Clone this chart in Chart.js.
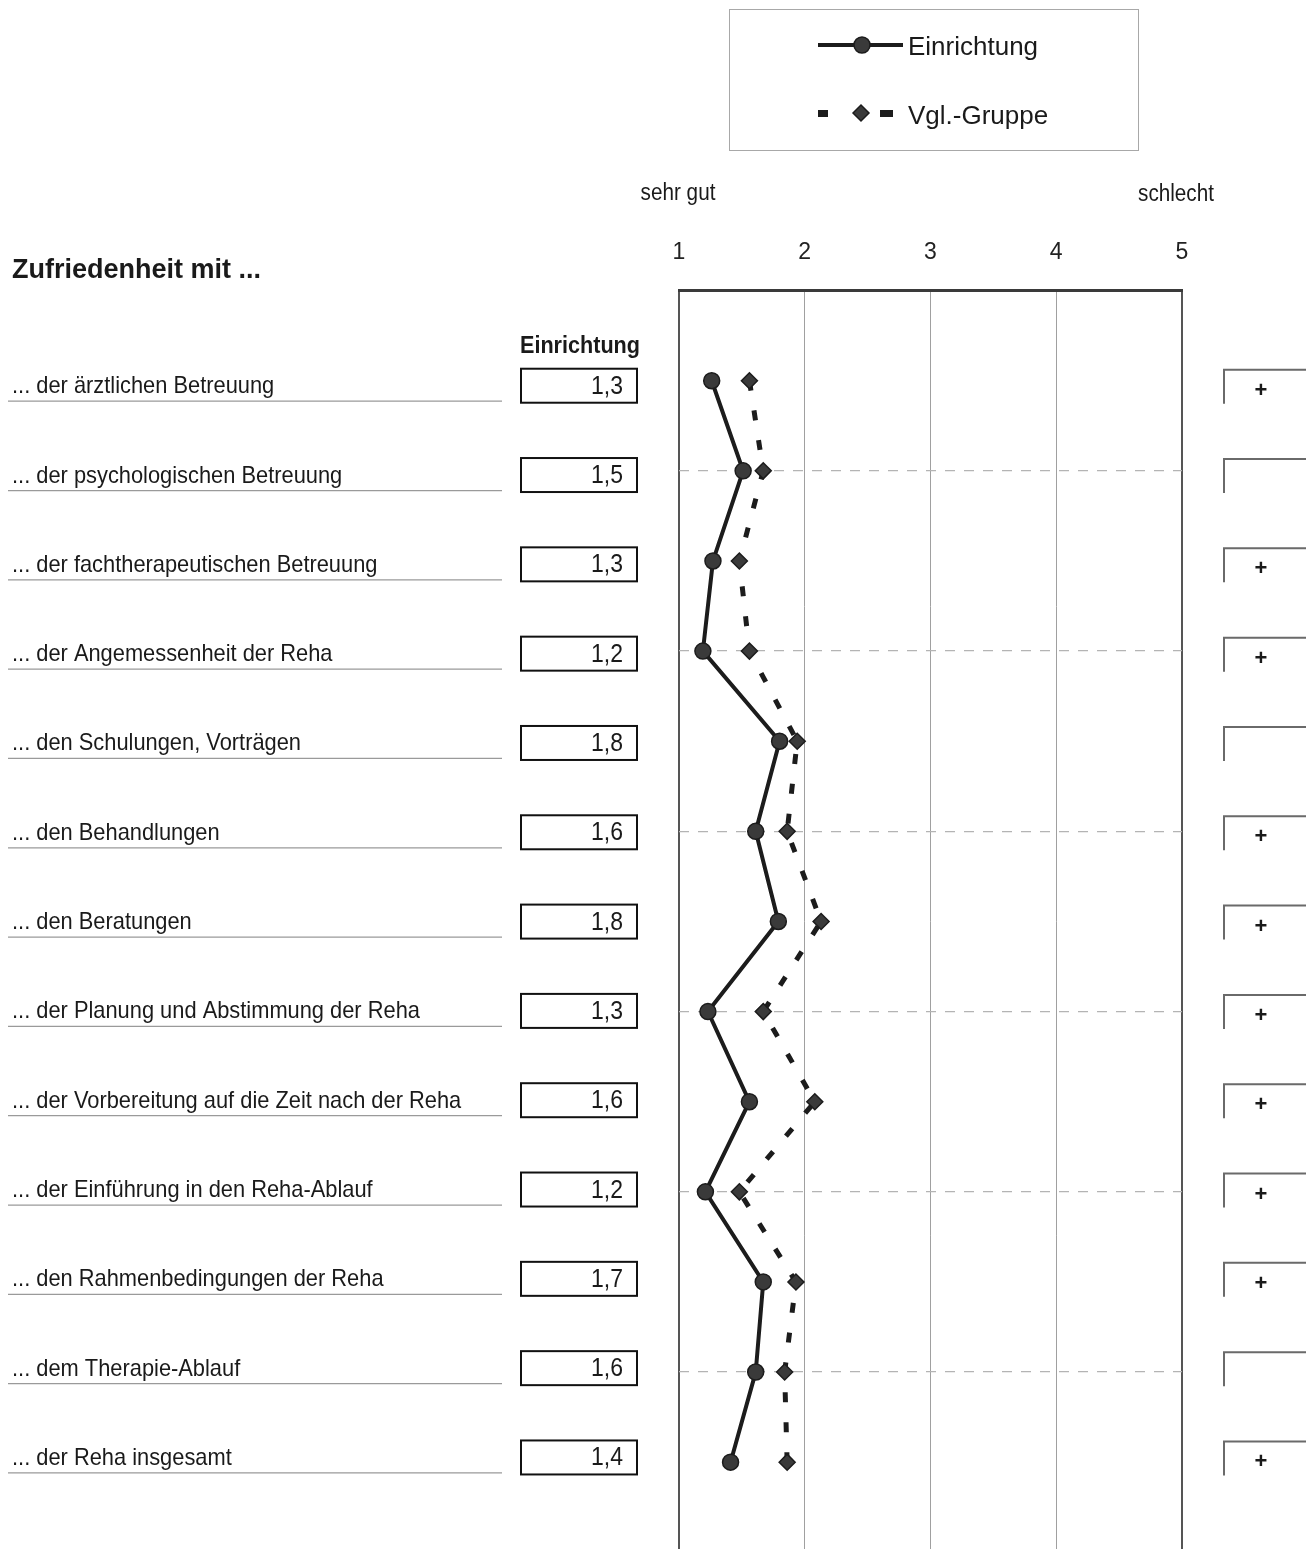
<!DOCTYPE html>
<html>
<head>
<meta charset="utf-8">
<script src="https://cdn.jsdelivr.net/npm/chart.js@4.4.1/dist/chart.umd.min.js"></script>
<style>
    html, body { margin: 0; padding: 0; background: #fff; overflow: hidden; }
    #wrap { width: 1306px; height: 1549px; overflow: hidden; }
</style>
</head>
<body>
<!-- canvas runs a little past the page so the plot frame reaches the bottom edge -->
<div id="wrap"><canvas id="profileChart" width="1306" height="1560"></canvas></div>
<script>
// Zufriedenheit mit ... (1 = sehr gut, 5 = schlecht)
var items = [
    "... der ärztlichen Betreuung",
    "... der psychologischen Betreuung",
    "... der fachtherapeutischen Betreuung",
    "... der Angemessenheit der Reha",
    "... den Schulungen, Vorträgen",
    "... den Behandlungen",
    "... den Beratungen",
    "... der Planung und Abstimmung der Reha",
    "... der Vorbereitung auf die Zeit nach der Reha",
    "... der Einführung in den Reha-Ablauf",
    "... den Rahmenbedingungen der Reha",
    "... dem Therapie-Ablauf",
    "... der Reha insgesamt"
];
var einrichtung = [1.26, 1.51, 1.27, 1.19, 1.80, 1.61, 1.79, 1.23, 1.56, 1.21, 1.67, 1.61, 1.41];
var vergleich   = [1.56, 1.67, 1.48, 1.56, 1.94, 1.86, 2.13, 1.67, 2.08, 1.48, 1.93, 1.84, 1.86];
// values as printed in the boxes
var einrichtungText = ["1,3", "1,5", "1,3", "1,2", "1,8", "1,6", "1,8", "1,3", "1,6", "1,2", "1,7", "1,6", "1,4"];
var marks = ["+", "", "+", "+", "", "+", "+", "+", "+", "+", "+", "", "+"];
var xTicks = [1, 2, 3, 4, 5];
var dashedRows = [1, 3, 5, 7, 9, 11];

var FONT = "'Liberation Sans', Arial, sans-serif";

function squeezeText(ctx, text, x, y, align, sx)
{
    ctx.save();
    ctx.translate(x, y);
    ctx.scale(sx, 1);
    ctx.textAlign = align;
    ctx.textBaseline = "alphabetic";
    ctx.fillText(text, 0, 0);
    ctx.restore();
}

// text rows on the sheet sit a little tighter than the plot rows
function textRowY(yScale, i)
{
    return yScale.getPixelForValue(i) + 4 - 0.81 * i;
}

var sheetPlugin = {
    id: "sheet",
    afterDraw: function (chart) {
        var ctx = chart.ctx;
        var xs = chart.scales.x;
        var ys = chart.scales.y;

        ctx.save();
        ctx.fillStyle = "#1a1a1a";

        // headings
        ctx.font = "bold 27px " + FONT;
        squeezeText(ctx, "Zufriedenheit mit ...", 12, 278, "left", 1);
        ctx.font = "bold 24px " + FONT;
        squeezeText(ctx, "Einrichtung", 520, 353, "left", 0.9);
        ctx.font = "23px " + FONT;
        squeezeText(ctx, "sehr gut", xs.getPixelForValue(1) - 1, 200, "center", 0.9);
        squeezeText(ctx, "schlecht", xs.getPixelForValue(5) - 6, 201, "center", 0.9);

        // rows
        for (var i = 0; i < items.length; i++) {
            var cy = textRowY(ys, i);

            ctx.fillStyle = "#1a1a1a";
            ctx.font = "24px " + FONT;
            squeezeText(ctx, items[i], 12, cy + 8.5, "left", 0.91);

            ctx.strokeStyle = "#9a9a9a";
            ctx.lineWidth = 1.2;
            ctx.beginPath();
            ctx.moveTo(8, cy + 16.5);
            ctx.lineTo(502, cy + 16.5);
            ctx.stroke();

            ctx.strokeStyle = "#111";
            ctx.lineWidth = 2;
            ctx.strokeRect(521, cy - 16, 116, 34);
            ctx.font = "25px " + FONT;
            squeezeText(ctx, einrichtungText[i], 623, cy + 9, "right", 0.92);

            ctx.strokeStyle = "#6a6a6a";
            ctx.lineWidth = 2;
            ctx.beginPath();
            ctx.moveTo(1306, cy - 15);
            ctx.lineTo(1224, cy - 15);
            ctx.lineTo(1224, cy + 19);
            ctx.stroke();
            if (marks[i]) {
                ctx.font = "bold 22px " + FONT;
                squeezeText(ctx, marks[i], 1261, cy + 12, "center", 1);
            }
        }

        // legend
        ctx.strokeStyle = "#a8a8a8";
        ctx.lineWidth = 1;
        ctx.strokeRect(729.5, 9.5, 409, 141);

        var e = chart.data.datasets[0];
        var v = chart.data.datasets[1];

        ctx.strokeStyle = e.borderColor;
        ctx.lineWidth = e.borderWidth;
        ctx.beginPath();
        ctx.moveTo(818, 45);
        ctx.lineTo(903, 45);
        ctx.stroke();
        ctx.fillStyle = e.pointBackgroundColor;
        ctx.strokeStyle = e.pointBorderColor;
        ctx.lineWidth = e.pointBorderWidth;
        Chart.helpers.drawPoint(ctx, {
            pointStyle: e.pointStyle, radius: e.pointRadius, rotation: 0,
            borderWidth: e.pointBorderWidth
        }, 862, 45);

        ctx.fillStyle = v.borderColor;
        ctx.fillRect(818, 110, 10, 7);
        ctx.fillRect(880, 110, 13, 7);
        ctx.fillStyle = v.pointBackgroundColor;
        ctx.strokeStyle = v.pointBorderColor;
        ctx.lineWidth = v.pointBorderWidth;
        Chart.helpers.drawPoint(ctx, {
            pointStyle: v.pointStyle, radius: v.pointRadius, rotation: 0,
            borderWidth: v.pointBorderWidth
        }, 861, 113);

        ctx.fillStyle = "#1a1a1a";
        ctx.font = "26px " + FONT;
        squeezeText(ctx, e.label, 908, 55, "left", 1);
        squeezeText(ctx, v.label, 908, 124, "left", 1);

        ctx.restore();
    }
};

var config = {
    type: "line",
    data: {
        datasets: [
            {
                label: "Einrichtung",
                data: einrichtung.map(function (val, i) { return { x: val, y: i }; }),
                borderColor: "#1c1c1c",
                borderWidth: 4,
                pointStyle: "circle",
                pointRadius: 8,
                pointBackgroundColor: "#3a3a3a",
                pointBorderColor: "#1c1c1c",
                pointBorderWidth: 1.5,
                tension: 0,
                fill: false,
                order: 0
            },
            {
                label: "Vgl.-Gruppe",
                data: vergleich.map(function (val, i) { return { x: val, y: i }; }),
                borderColor: "#1c1c1c",
                borderWidth: 5,
                borderDash: [10, 20],
                pointStyle: "rectRot",
                pointRadius: 8,
                pointBackgroundColor: "#3a3a3a",
                pointBorderColor: "#1c1c1c",
                pointBorderWidth: 1.5,
                tension: 0,
                fill: false,
                order: 1
            }
        ]
    },
    options: {
        responsive: false,
        animation: false,
        indexAxis: "y",
        layout: {
            padding: { top: 215, left: 679, right: 124, bottom: 0 }
        },
        scales: {
            x: {
                type: "linear",
                position: "top",
                min: 1,
                max: 5,
                afterBuildTicks: function (scale) {
                    scale.ticks = xTicks.map(function (t) { return { value: t }; });
                },
                ticks: {
                    padding: 24,
                    color: "#222",
                    font: { family: FONT, size: 23 }
                },
                grid: {
                    drawTicks: false,
                    color: function (c) {
                        return (c.tick && (c.tick.value === 1 || c.tick.value === 5)) ? "#555" : "#a0a0a0";
                    },
                    lineWidth: function (c) {
                        return (c.tick && (c.tick.value === 1 || c.tick.value === 5)) ? 2 : 1;
                    }
                },
                border: { color: "#3a3a3a", width: 3 }
            },
            y: {
                type: "linear",
                reverse: true,
                min: -1,
                max: 12.98,
                afterBuildTicks: function (scale) {
                    scale.ticks = dashedRows.map(function (t) { return { value: t }; });
                },
                ticks: { display: false },
                grid: {
                    drawTicks: false,
                    color: "#b4b4b4",
                    lineWidth: 1.2
                },
                border: { display: false, dash: [10, 9] }
            }
        },
        plugins: {
            legend: { display: false },
            tooltip: { enabled: false }
        }
    },
    plugins: [sheetPlugin]
};

var chart = new Chart(document.getElementById("profileChart").getContext("2d"), config);
</script>
</body>
</html>
